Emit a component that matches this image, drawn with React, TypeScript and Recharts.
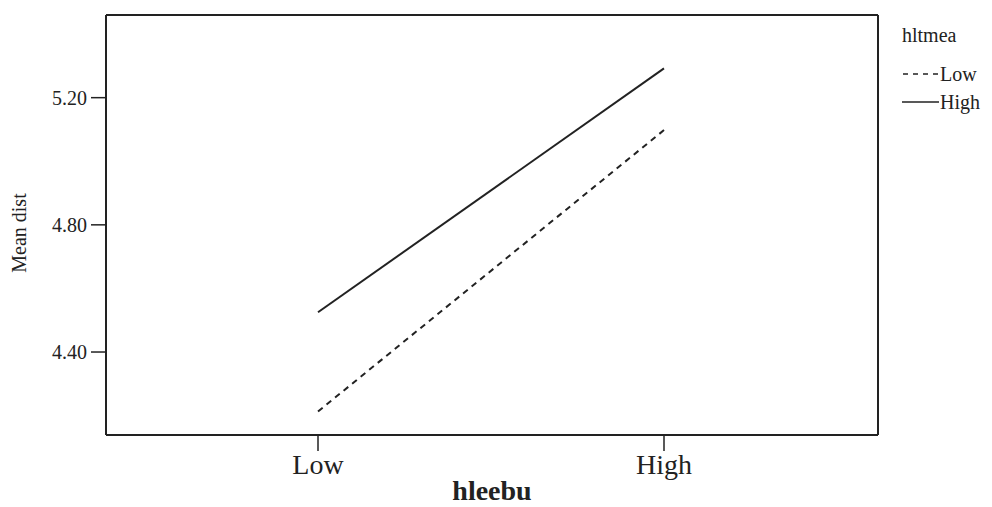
import { LineChart, Line, XAxis, YAxis, Legend } from 'recharts';

const categories = ['Low', 'High'];
const lowSeries = [4.213, 5.098];
const highSeries = [4.525, 5.292];
const yTicks = [4.4, 4.8, 5.2];

const data = categories.map((name, i) => ({
  name,
  low: lowSeries[i],
  high: highSeries[i],
}));

const FONT = '"Liberation Serif", "Times New Roman", serif';
const INK = '#222';
const DOMAIN: [number, number] = [4.139, 5.46];

function XTick({ x, payload }: any) {
  return (
    <text x={x} y={474} textAnchor="middle" fontFamily={FONT} fontSize={28} fill={INK}>
      {payload.value}
    </text>
  );
}

function YTick({ y, payload }: any) {
  return (
    <text x={87} y={y} dy={7} textAnchor="end" fontFamily={FONT} fontSize={20} fill={INK}>
      {payload.value.toFixed(2)}
    </text>
  );
}

function LegendBox() {
  return (
    <svg width={90} height={120} style={{ display: 'block' }}>
      <text x={0} y={20} fontFamily={FONT} fontSize={20} fill={INK}>
        hltmea
      </text>
      <line x1={1} x2={36} y1={52} y2={52} stroke={INK} strokeWidth={1.5} strokeDasharray="5 5" />
      <text x={38} y={59} fontFamily={FONT} fontSize={20} fill={INK}>
        Low
      </text>
      <line x1={0} x2={37} y1={80} y2={80} stroke={INK} strokeWidth={1.5} />
      <text x={38} y={87} fontFamily={FONT} fontSize={20} fill={INK}>
        High
      </text>
    </svg>
  );
}

export default function App() {
  return (
    <div style={{ position: 'absolute', left: 0, top: 0, width: 992, height: 507, background: '#fff' }}>
      <LineChart
        width={992}
        height={507}
        data={data}
        margin={{ top: 0, right: 0, left: 0, bottom: 0 }}
      >
        <XAxis
          dataKey="name"
          height={72}
          padding={{ left: 212, right: 214 }}
          axisLine={{ stroke: INK, strokeWidth: 2 }}
          tickLine={{ stroke: INK, strokeWidth: 1.5 }}
          tickSize={16}
          tick={<XTick />}
          label={{
            content: () => (
              <text x={492} y={500} textAnchor="middle" fontFamily={FONT} fontSize={28} fontWeight="bold" fill={INK}>
                hleebu
              </text>
            ),
          }}
        />
        <XAxis
          xAxisId="top"
          dataKey="name"
          orientation="top"
          height={15}
          tick={false}
          tickLine={false}
          axisLine={{ stroke: INK, strokeWidth: 2 }}
          padding={{ left: 212, right: 214 }}
        />
        <YAxis
          width={106}
          domain={DOMAIN}
          ticks={yTicks}
          type="number"
          allowDataOverflow
          axisLine={{ stroke: INK, strokeWidth: 2 }}
          tickLine={{ stroke: INK, strokeWidth: 1.5 }}
          tickSize={15}
          tick={<YTick />}
          label={{
            content: () => (
              <text x={26} y={233} transform="rotate(-90 26 233)" textAnchor="middle" fontFamily={FONT} fontSize={20} fill={INK}>
                Mean dist
              </text>
            ),
          }}
        />
        <YAxis
          yAxisId="right"
          orientation="right"
          width={114}
          domain={DOMAIN}
          type="number"
          allowDataOverflow
          tick={false}
          tickLine={false}
          axisLine={{ stroke: INK, strokeWidth: 2 }}
        />
        <Legend
          layout="vertical"
          align="center"
          verticalAlign="middle"
          wrapperStyle={{ position: 'absolute', left: 902, top: 22, width: 90 }}
          content={() => <LegendBox />}
        />
        <Line
          dataKey="low"
          stroke={INK}
          strokeWidth={2}
          strokeDasharray="6 5"
          dot={false}
          activeDot={false}
          isAnimationActive={false}
        />
        <Line
          dataKey="high"
          stroke={INK}
          strokeWidth={2}
          dot={false}
          activeDot={false}
          isAnimationActive={false}
        />
      </LineChart>
    </div>
  );
}
